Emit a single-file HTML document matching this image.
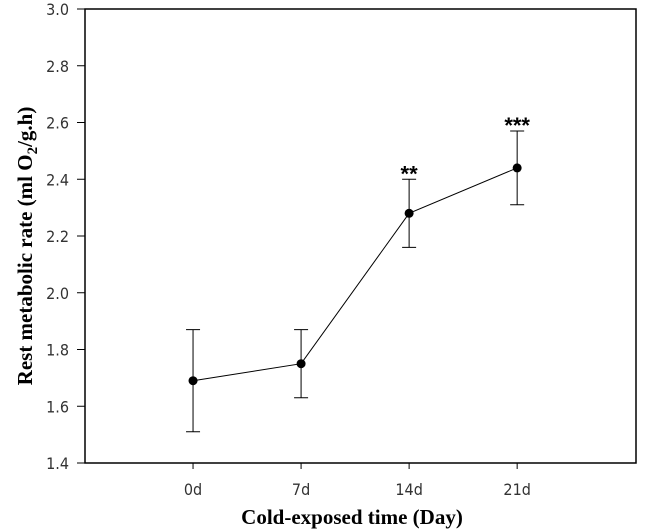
<!DOCTYPE html>
<html><head><meta charset="utf-8"><style>
body{margin:0;background:#fff}
svg{display:block}
.tk{font-family:"Liberation Sans Narrow","DejaVu Sans Condensed","Liberation Sans",sans-serif;font-size:16px;fill:#333}
.tt{font-family:"Liberation Serif",serif;font-size:21px;font-weight:bold;fill:#000}
</style></head><body>
<svg id="c" width="647" height="532"></svg>
<script>
const categories=["0d","7d","14d","21d"];
const values=[1.69,1.75,2.28,2.44];
const errors=[0.18,0.12,0.12,0.13];
const marks=["","","**","***"];
const yTicks=[1.4,1.6,1.8,2.0,2.2,2.4,2.6,2.8,3.0];
const L=85,R=636,T=9,B=463;
const xs=i=>L+(i+1)/5.1*(R-L);
const ys=v=>B-(v-1.4)/1.6*(B-T);
const s=document.getElementById('c');
const NS="http://www.w3.org/2000/svg";
function mk(t,a,p){const e=document.createElementNS(NS,t);for(const k in a)e.setAttribute(k,a[k]);(p||s).appendChild(e);return e;}
let e;
e=mk('rect',{x:L,y:T,width:R-L,height:B-T,fill:'none',stroke:'#000','stroke-width':1.5});


yTicks.forEach(v=>{
 e=mk('line',{x1:L-8,x2:L,y1:ys(v),y2:ys(v),stroke:'#000'});
 
 
 e=mk('text',{x:L-16,y:ys(v)+6,'text-anchor':'end',class:'tk'});e.textContent=v.toFixed(1);
 
 
});
categories.forEach((c,i)=>{
 e=mk('line',{x1:xs(i),x2:xs(i),y1:B,y2:B+6,stroke:'#000'});
 
 
 e=mk('text',{x:xs(i),y:B+32,'text-anchor':'middle',class:'tk'});e.textContent=c;
 
 
});
e=mk('polyline',{points:values.map((v,i)=>xs(i)+','+ys(v)).join(' '),fill:'none',stroke:'#000','stroke-width':1});


values.forEach((v,i)=>{
 const x=xs(i),y1=ys(v+errors[i]),y2=ys(v-errors[i]);
 e=mk('path',{d:`M${x},${y1}V${y2}M${x-7},${y1}H${x+7}M${x-7},${y2}H${x+7}`,stroke:'#000',fill:'none'});
 
 
 e=mk('circle',{cx:x,cy:ys(v),r:4.5,fill:'#000'});
 
 
 if(marks[i]){e=mk('text',{x:x,y:y1+2,'text-anchor':'middle','font-family':'Liberation Sans,sans-serif','font-size':'22px','font-weight':'bold'});e.textContent=marks[i];
 
 }
});
e=mk('text',{x:352,y:524,'text-anchor':'middle',class:'tt'});e.textContent='Cold-exposed time (Day)';


e=mk('text',{x:0,y:0,'text-anchor':'middle',class:'tt',transform:`translate(32,${(T+B)/2+10}) rotate(-90)`});
e.innerHTML='Rest metabolic rate (ml O<tspan dy="5" font-size="15">2</tspan><tspan dy="-5">/g.h)</tspan>';


</script>
</body></html>
